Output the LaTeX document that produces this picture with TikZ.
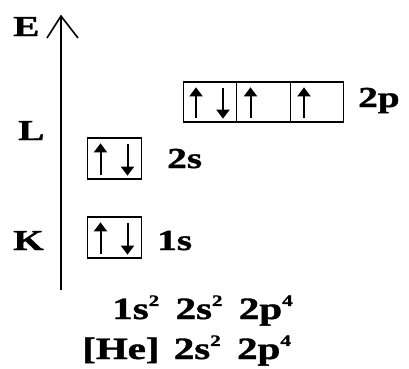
\documentclass[tikz,border=0pt]{standalone}
\usepackage{fontspec}
\setmainfont{Liberation Serif}[BoldFeatures={FakeBold=1.2}]
\usetikzlibrary{arrows.meta}
\newcommand{\mysup}[1]{\raisebox{0.42em}{\fontsize{16}{16}\selectfont #1}}
\begin{document}
\begin{tikzpicture}[x=1pt,y=-1pt,
 orb/.style={draw, line width=1.3pt, minimum width=54pt, minimum height=41pt, inner sep=0pt},
 lbl/.style={font=\bfseries\fontsize{29}{31}\selectfont, xscale=1.35, inner sep=0pt, anchor=base west},
 big/.style={font=\bfseries\fontsize{31}{33}\selectfont, xscale=1.32, inner sep=0pt, anchor=base west},
 axisline/.style={line width=1.6pt},
 spin/.style={line width=2pt, -{Triangle[width=13pt,length=9pt]}},
]
\useasboundingbox (0,0) rectangle (409,368);
% axis
\coordinate (ab) at (61,290);
\coordinate (at) at (61,16);
\coordinate (al) at (47,38);
\coordinate (ar) at (78,38);
\draw[axisline] (ab) -- (at);
\draw[axisline] (al) -- (at) -- (ar);
\node[lbl] (E) at (13,36) {E};
\node[lbl] (L) at (18,140) {L};
\node[lbl] (K) at (13,250) {K};
% boxes
\node[orb] (s1) at (114.5,237.5) {};
\node[orb] (s2) at (114.5,158.5) {};
\node[orb, minimum width=53.5pt, minimum height=40pt] (p1) at (210,102) {};
\node[orb, minimum width=53.5pt, minimum height=40pt] (p2) at (263.5,102) {};
\node[orb, minimum width=53.5pt, minimum height=40pt] (p3) at (317,102) {};
% spins
\foreach \b in {s1,s2,p1}{
  \draw[spin] ([xshift=-14pt,yshift=5pt]\b.south) -- ([xshift=-14pt,yshift=-6pt]\b.north);
  \draw[spin] ([xshift=13pt,yshift=-7pt]\b.north) -- ([xshift=13pt,yshift=4pt]\b.south);
}
\foreach \b in {p2,p3}{
  \draw[spin] ([xshift=-13pt,yshift=5pt]\b.south) -- ([xshift=-13pt,yshift=-6pt]\b.north);
}
% labels
\node[lbl] (l2s) at (167,168) {2s};
\node[lbl] (l1s) at (157,250) {1s};
\node[lbl] (l2p) at (358,107) {2p};
\node[big] (c1) at (112,319) {1s\mysup{2}\hspace{0.4em}2s\mysup{2}\hspace{0.4em}2p\mysup{4}};
\node[big] (c2) at (82,359) {[He]\hspace{0.35em}2s\mysup{2}\hspace{0.4em}2p\mysup{4}};
\end{tikzpicture}
\end{document}
